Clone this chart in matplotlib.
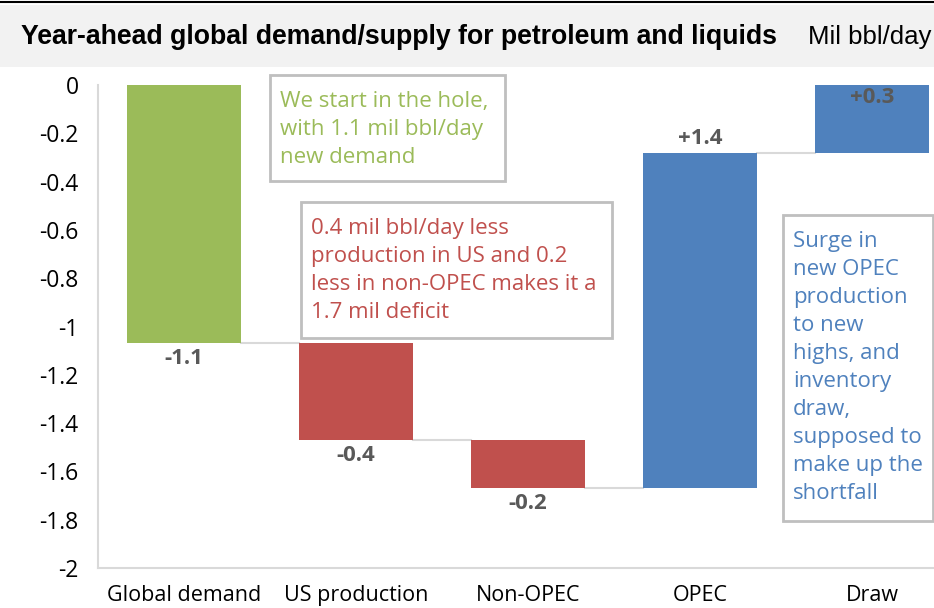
import numpy as np
import matplotlib
matplotlib.use('Agg')
import matplotlib.pyplot as plt
from matplotlib.patches import Rectangle
from matplotlib.lines import Line2D

# Data
categories = ['Global demand', 'US production', 'Non-OPEC', 'OPEC', 'Draw']
changes = [-1.07, -0.40, -0.20, 1.39, 0.28]
labels = ['-1.1', '-0.4', '-0.2', '+1.4', '+0.3']
colors = ['#9bbb59', '#c0504d', '#c0504d', '#4f81bd', '#4f81bd']

W, H = 934, 608


def fx(px):
    return px / W


def fy(py):
    return 1 - py / H


fig = plt.figure(figsize=(W / 100, H / 100), dpi=100)

# Title band
fig.patches.append(Rectangle((0, fy(67)), 1, fy(5) - fy(67), transform=fig.transFigure,
                             facecolor='#f2f2f2', edgecolor='none', zorder=0))
fig.lines.append(Line2D([0, 1], [fy(2), fy(2)], transform=fig.transFigure, color='black', lw=1.5))
fig.text(fx(21), fy(37), 'Year-ahead global demand/supply for petroleum and liquids',
         family='Liberation Sans', weight='bold', fontsize=19.2, va='center', ha='left')
fig.text(fx(931), fy(37), 'Mil bbl/day', family='Liberation Sans', fontsize=18.5,
         va='center', ha='right')

# Axes: x range extends beyond the right edge of the image (cropped chart)
left, right, top, bottom = 98, 958, 85, 568
ax = fig.add_axes([fx(left), fy(bottom), fx(right - left), fy(top) - fy(bottom)])
ax.set_xlim(-0.5, len(categories) - 0.5)
ax.set_ylim(-2, 0)

x = np.arange(len(categories))
ends = np.cumsum(changes)
starts = ends - np.array(changes)
width = 0.66

ax.bar(x, changes, bottom=starts, width=width, color=colors, zorder=3)

# connectors
for i in range(len(categories) - 1):
    ax.plot([x[i] + width / 2, x[i + 1] - width / 2], [ends[i], ends[i]],
            color='#d9d9d9', lw=1.5, zorder=2)

# data labels
lab_kw = dict(textcoords='offset points', ha='center', va='center', fontsize=16,
              weight='bold', color='#595959', family='Open Sans')
for i, (c, lab) in enumerate(zip(changes, labels)):
    top_v = max(starts[i], ends[i])
    bot_v = min(starts[i], ends[i])
    if c < 0:
        ax.annotate(lab, (x[i], bot_v), xytext=(0, -11), **lab_kw)
    elif top_v >= 0 - 1e-9:
        ax.annotate(lab, (x[i], top_v), xytext=(0, -9), **lab_kw)
    else:
        ax.annotate(lab, (x[i], top_v), xytext=(0, 10), **lab_kw)

ax.set_yticks(np.arange(-2, 0.01, 0.2))
ax.set_yticklabels(['-2', '-1.8', '-1.6', '-1.4', '-1.2', '-1', '-0.8', '-0.6',
                    '-0.4', '-0.2', '0'])
ax.set_xticks(x)
ax.set_xticklabels(categories)
ax.tick_params(axis='both', length=0, colors='black')
ax.tick_params(axis='y', pad=14, labelsize=16.5)
ax.tick_params(axis='x', pad=12, labelsize=15.5)
for t in ax.get_xticklabels() + ax.get_yticklabels():
    t.set_family('Open Sans')
for s in ['top', 'right']:
    ax.spines[s].set_visible(False)
for s in ['left', 'bottom']:
    ax.spines[s].set_color('#d9d9d9')
    ax.spines[s].set_linewidth(1.5)


# annotation boxes
def note(x0, y0, x1, y1, txt, col):
    fig.patches.append(Rectangle((fx(x0), fy(y1)), fx(x1 - x0), fy(y0) - fy(y1),
                                 transform=fig.transFigure, facecolor='white',
                                 edgecolor='#bfbfbf', lw=2, zorder=5))
    fig.text(fx(x0 + 10), fy(y0 + 16), txt, color=col, family='Open Sans', fontsize=16,
             va='top', ha='left', linespacing=1.44, zorder=6)


note(270, 75, 505, 181, 'We start in the hole,\nwith 1.1 mil bbl/day\nnew demand', '#9bbb59')
note(301, 202, 612, 338, '0.4 mil bbl/day less\nproduction in US and 0.2\n'
     'less in non-OPEC makes it a\n1.7 mil deficit', '#c0504d')
note(783, 215, 933, 521, 'Surge in\nnew OPEC\nproduction\nto new\nhighs, and\ninventory\n'
     'draw,\nsupposed to\nmake up the\nshortfall', '#4f81bd')

fig.savefig('out.png', dpi=100)
